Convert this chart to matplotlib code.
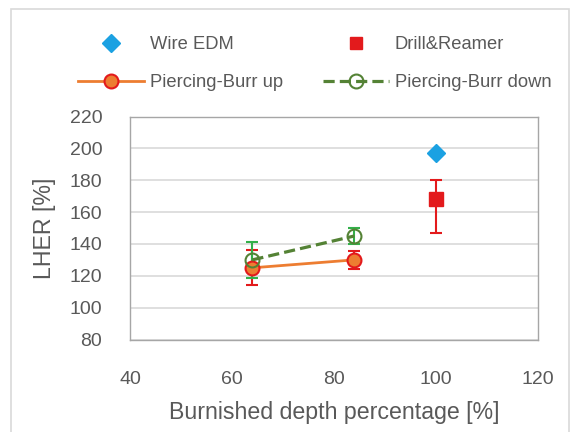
import matplotlib
matplotlib.use("Agg")
import matplotlib.pyplot as plt
from matplotlib.patches import Rectangle
from matplotlib.lines import Line2D

plt.rcParams['font.family'] = ['Liberation Sans', 'DejaVu Sans']

# Data
wire_x = [100]
wire_y = [197]
wire_err = [1]

drill_x = [100]
drill_y = [168]
drill_err_low = [21]
drill_err_high = [12]

up_x = [64, 84]
up_y = [125, 130]
up_err = [11, 5.5]

down_x = [64, 84]
down_y = [130, 145]
down_err = [11.5, 5]

xticks = [40, 60, 80, 100, 120]
yticks = [80, 100, 120, 140, 160, 180, 200, 220]

TXT = '#595959'
fig = plt.figure(figsize=(5.72, 4.32), dpi=100)
W, H = 572, 432
ax = fig.add_axes([130 / W, 1 - 339.5 / H, (538 - 130) / W, (339.5 - 116.5) / H])

# outer frame
fig.patches.append(Rectangle((11 / W, -0.05), (569 - 11) / W, (1 - 9 / H) + 0.05,
                             transform=fig.transFigure, fill=False,
                             edgecolor='#d9d9d9', linewidth=1.2))

ax.set_xlim(40, 120)
ax.set_ylim(80, 220)
ax.set_xticks(xticks)
ax.set_yticks(yticks)
ax.grid(axis='y', color='#d9d9d9', linewidth=1.2)
ax.set_axisbelow(True)
for s in ax.spines.values():
    s.set_color('#a6a6a6')
    s.set_linewidth(1.0)
ax.tick_params(length=0, labelsize=14, colors=TXT)
ax.tick_params(axis='x', pad=23)
ax.tick_params(axis='y', pad=20)

ax.set_xlabel('Burnished depth percentage [%]', fontsize=16.7, color=TXT, labelpad=9)
ax.set_ylabel('LHER [%]', fontsize=16.7, color=TXT, labelpad=10)

# error bars
ax.errorbar(drill_x, drill_y, yerr=[drill_err_low, drill_err_high], fmt='none',
            ecolor='#e31a1c', elinewidth=1.5, capsize=4, capthick=1.5, zorder=3)
ax.errorbar(wire_x, wire_y, yerr=wire_err, fmt='none',
            ecolor='#1ba1e2', elinewidth=1.2, capsize=3, zorder=3)
ax.errorbar(up_x, up_y, yerr=up_err, fmt='none',
            ecolor='#e31a1c', elinewidth=1.5, capsize=4, capthick=1.5, zorder=3)
ax.errorbar(down_x, down_y, yerr=down_err, fmt='none',
            ecolor='#33b04a', elinewidth=1.5, capsize=4, capthick=1.5, zorder=4)

ax.plot(wire_x, wire_y, linestyle='none', marker='D', markersize=9,
        color='#1ba1e2', zorder=5)
ax.plot(drill_x, drill_y, linestyle='none', marker='s', markersize=10,
        color='#e31a1c', zorder=5)
ax.plot(up_x, up_y, color='#ed7d31', linewidth=2, marker='o', markersize=10,
        markerfacecolor='#ed7d31', markeredgecolor='#e31a1c', markeredgewidth=1.5,
        zorder=5)
ax.plot(down_x, down_y, color='#548235', linewidth=2.3, linestyle=(0, (3.5, 1.6)),
        marker='o', markersize=10, markerfacecolor='none',
        markeredgecolor='#548235', markeredgewidth=1.5, zorder=6)

h_wire = Line2D([], [], linestyle='none', marker='D', markersize=9, color='#1ba1e2')
h_drill = Line2D([], [], linestyle='none', marker='s', markersize=9, color='#e31a1c')
h_up = Line2D([], [], color='#ed7d31', linewidth=2, marker='o', markersize=10,
              markerfacecolor='#ed7d31', markeredgecolor='#e31a1c', markeredgewidth=1.5)
h_down = Line2D([], [], color='#548235', linewidth=2.3, linestyle=(0, (3.5, 1.6)),
                marker='o', markersize=10, markerfacecolor='none',
                markeredgecolor='#548235', markeredgewidth=1.5)
handles = [h_wire, h_up, h_drill, h_down]
labels = ['Wire EDM', 'Piercing-Burr up', 'Drill&Reamer', 'Piercing-Burr down']
leg = fig.legend(handles, labels, ncol=2, loc='upper left',
                 bbox_to_anchor=(69 / W, 1 - 27 / H),
                 frameon=False, fontsize=13.2, handlelength=3.6, columnspacing=2.2,
                 labelspacing=1.15, handletextpad=0.3, borderpad=0)
for t in leg.get_texts():
    t.set_color(TXT)

fig.savefig('out.png', dpi=100)
